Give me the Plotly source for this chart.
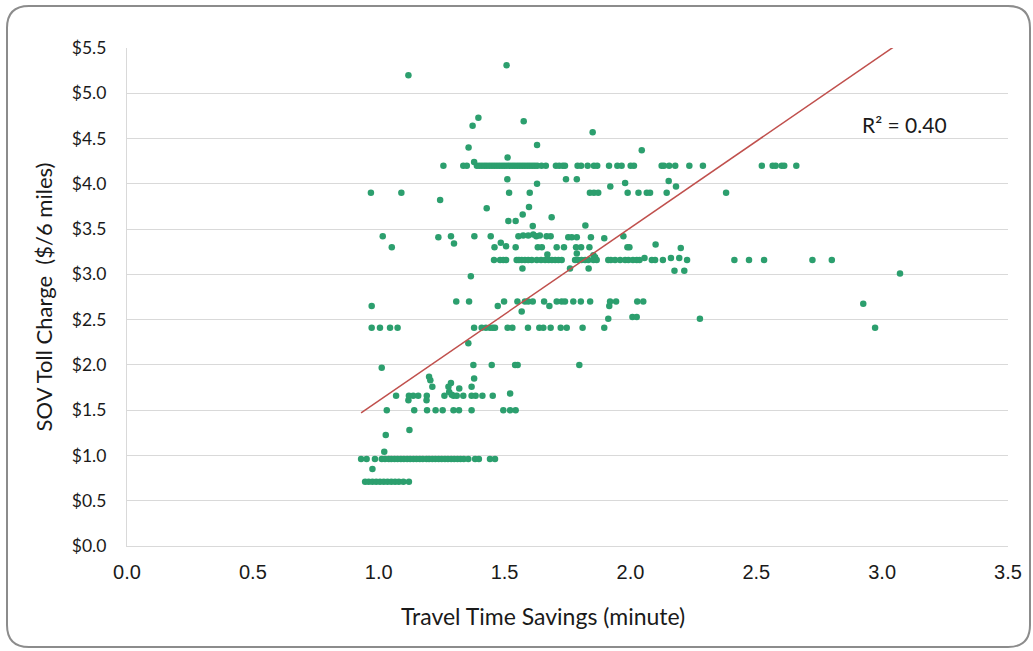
import plotly.graph_objects as go

# ---------------- data ----------------
row071_x = [0.946, 0.96, 0.975, 0.99, 1.005, 1.02, 1.035, 1.05, 1.065, 1.08, 1.098, 1.12]
row096_x = [0.93, 0.952, 0.985, 1.012, 1.025, 1.04, 1.05, 1.063, 1.075, 1.088, 1.1, 1.113,
            1.125, 1.138, 1.15, 1.163, 1.175, 1.19, 1.2, 1.213, 1.225, 1.238, 1.25, 1.263,
            1.275, 1.288, 1.3, 1.313, 1.325, 1.338, 1.356, 1.383, 1.398, 1.442, 1.462]
row150_x = [1.032, 1.141, 1.192, 1.226, 1.254, 1.297, 1.319, 1.369, 1.495, 1.522, 1.544]
row166_x = [1.069, 1.12, 1.137, 1.157, 1.191, 1.261, 1.297, 1.31, 1.336, 1.369, 1.385, 1.412, 1.453]
row200_x = [1.376, 1.449, 1.542, 1.552, 1.797]
row241_x = [0.972, 1.005, 1.045, 1.075, 1.379, 1.409, 1.426, 1.442, 1.453, 1.462, 1.512, 1.531,
            1.593, 1.638, 1.654, 1.683, 1.723, 1.747, 1.81, 1.896, 2.972]
row270_x = [1.308, 1.359, 1.498, 1.551, 1.581, 1.594, 1.612, 1.657, 1.707, 1.727, 1.74, 1.773,
            1.803, 1.84, 1.919, 1.943, 2.027, 2.051]
row316_x = [1.458, 1.482, 1.495, 1.506, 1.548, 1.557, 1.568, 1.581, 1.594, 1.608, 1.628, 1.645,
            1.661, 1.675, 1.688, 1.701, 1.714, 1.727, 1.78, 1.793, 1.806, 1.82, 1.833, 1.853,
            1.866, 1.912, 1.922, 1.939, 1.959, 1.979, 1.992, 2.01, 2.025, 2.036, 2.085, 2.098,
            2.129, 2.225, 2.413, 2.471, 2.531, 2.723, 2.8]
row390_x = [0.969, 1.09, 1.518, 1.6, 1.839, 1.855, 1.872, 1.989, 2.032, 2.065, 2.078, 2.144, 2.38]
row420_x = [1.257, 1.336, 1.35, 1.39, 1.40, 1.41, 1.42, 1.43, 1.44, 1.45, 1.46, 1.47, 1.48,
            1.49, 1.50, 1.51, 1.52, 1.53, 1.54, 1.55, 1.56, 1.57, 1.58, 1.59, 1.60, 1.61, 1.62,
            1.63, 1.647, 1.664, 1.704, 1.717, 1.731, 1.74, 1.79, 1.804, 1.83, 1.855, 1.868,
            1.915, 1.948, 1.965, 2.001, 2.014, 2.124, 2.133, 2.154, 2.178, 2.234, 2.288,
            2.522, 2.565, 2.577, 2.601, 2.611, 2.659]

row_levels = [0.71, 0.96, 1.50, 1.66, 2.00, 2.41, 2.70, 3.16, 3.90, 4.20]

other_x = [0.975, 1.022, 1.028, 1.122, 1.118, 1.19, 1.2, 1.205, 1.213, 1.379, 1.369, 1.287,
           1.277, 1.32, 1.28, 1.29, 1.522, 1.012, 1.356,
           1.568, 1.912, 2.008, 2.025, 2.276, 0.972, 1.473, 1.678, 1.916, 2.925,
           1.366, 3.071, 1.571, 1.76, 1.834, 2.175, 2.214, 2.056, 2.161, 2.194,
           1.67, 1.787, 1.853, 1.86,
           1.052, 1.46, 1.506, 1.544, 1.632, 1.648, 1.707, 1.736, 1.784, 1.804, 1.837,
           1.988, 1.996, 2.2, 2.1, 1.299, 1.485,
           1.016, 1.237, 1.287, 1.38, 1.445, 1.555, 1.574, 1.594, 1.614, 1.626, 1.64,
           1.667, 1.683, 1.753, 1.767, 1.787, 1.843, 1.896, 1.972,
           1.515, 1.544, 1.572, 1.597, 1.612, 1.687, 1.821, 1.429,
           1.244, 1.92, 2.181, 1.979, 2.152, 1.744, 1.787, 1.511, 1.629,
           1.379, 1.512, 1.357, 1.629, 2.045, 1.373, 1.396, 1.576, 1.85, 1.118, 1.508]
other_y = [0.85, 1.04, 1.225, 1.28, 1.61, 1.61, 1.87, 1.83, 1.76, 1.85, 1.76, 1.80,
           1.76, 1.74, 1.70, 1.67, 1.685, 1.97, 2.24,
           2.59, 2.51, 2.53, 2.53, 2.51, 2.65, 2.65, 2.65, 2.65, 2.675,
           2.98, 3.01, 3.065, 3.065, 3.065, 3.04, 3.04, 3.18, 3.18, 3.18,
           3.22, 3.23, 3.21, 3.19,
           3.30, 3.30, 3.31, 3.30, 3.30, 3.30, 3.30, 3.30, 3.30, 3.30, 3.30,
           3.30, 3.30, 3.29, 3.33, 3.34, 3.35,
           3.42, 3.41, 3.42, 3.42, 3.42, 3.42, 3.43, 3.43, 3.44, 3.42, 3.43,
           3.42, 3.42, 3.41, 3.41, 3.41, 3.41, 3.40, 3.42,
           3.59, 3.59, 3.66, 3.745, 3.535, 3.63, 3.54, 3.73,
           3.82, 3.97, 3.97, 4.01, 4.03, 4.05, 4.05, 4.05, 4.00,
           4.24, 4.29, 4.40, 4.43, 4.37, 4.64, 4.73, 4.69, 4.57, 5.20, 5.31]

trend_x = [0.93, 3.071]
trend_y = [1.47, 5.56]
r2_label = "R² = 0.40"
x_title = "Travel Time Savings (minute)"
y_title = "SOV Toll Charge  ($/6 miles)"

# ---------------- assemble ----------------
rows = [row071_x, row096_x, row150_x, row166_x, row200_x, row241_x, row270_x,
        row316_x, row390_x, row420_x]
xs, ys = [], []
for lvl, rx in zip(row_levels, rows):
    xs.extend(rx)
    ys.extend([lvl] * len(rx))
xs.extend(other_x)
ys.extend(other_y)

fig = go.Figure()
fig.add_trace(go.Scatter(x=xs, y=ys, mode="markers",
                         marker=dict(color="#2C9F6E", size=6.5, line=dict(width=0)),
                         showlegend=False, hoverinfo="x+y"))
fig.add_trace(go.Scatter(x=trend_x, y=trend_y, mode="lines",
                         line=dict(color="#C0504D", width=1.5), showlegend=False))

# ---------------- layout ----------------
W, H = 1033, 651
L, R, T, B = 127, 25, 48, 105
pw, ph = W - L - R, H - T - B


def px(p):
    return (p - L) / pw


def py(p):
    return (H - B - p) / ph


bx0, bx1, by0, by1, rr = 7, 1030, 6, 647, 22
path = (f"M {px(bx0+rr)},{py(by0)} L {px(bx1-rr)},{py(by0)} "
        f"Q {px(bx1)},{py(by0)} {px(bx1)},{py(by0+rr)} "
        f"L {px(bx1)},{py(by1-rr)} Q {px(bx1)},{py(by1)} {px(bx1-rr)},{py(by1)} "
        f"L {px(bx0+rr)},{py(by1)} Q {px(bx0)},{py(by1)} {px(bx0)},{py(by1-rr)} "
        f"L {px(bx0)},{py(by0+rr)} Q {px(bx0)},{py(by0)} {px(bx0+rr)},{py(by0)} Z")

txt = "#1a1a1a"
fig.update_layout(
    width=W, height=H,
    margin=dict(l=L, r=R, t=T, b=B),
    paper_bgcolor="white", plot_bgcolor="white",
    xaxis=dict(range=[0, 3.5], dtick=0.5, tick0=0, tickformat=".1f",
               showgrid=False, zeroline=False, showline=True, linecolor="#D9D9D9",
               linewidth=1.3, ticks="", ticklabelstandoff=8,
               tickfont=dict(family="Liberation Sans, Arial", size=20, color=txt)),
    yaxis=dict(range=[0, 5.5], dtick=0.5, tick0=0, tickformat=".1f", tickprefix="$",
               showgrid=True, gridcolor="#D9D9D9", gridwidth=1.3, zeroline=False,
               showline=True, linecolor="#D9D9D9", linewidth=1.3, ticks="",
               ticklabelstandoff=16,
               tickfont=dict(family="Lato, Open Sans", size=17.5, color=txt),
               title=dict(text=y_title, standoff=13,
                          font=dict(family="Lato, Open Sans", size=22, color=txt))),
    shapes=[dict(type="path", xref="paper", yref="paper", path=path,
                 line=dict(color="#8C8C8C", width=2), fillcolor="rgba(0,0,0,0)",
                 layer="above")],
    annotations=[
        dict(x=3.09, y=4.65, xref="x", yref="y", text=r2_label, showarrow=False,
             font=dict(family="Lato, Open Sans", size=21, color=txt)),
        dict(x=px(543), y=py(616), xref="paper", yref="paper", text=x_title,
             showarrow=False, xanchor="center", yanchor="middle",
             font=dict(family="Lato, Open Sans", size=23, color=txt)),
    ],
)

fig.write_html("out.html", config={"displayModeBar": False},
               post_script="document.body.style.margin='0';document.body.style.padding='0';")
